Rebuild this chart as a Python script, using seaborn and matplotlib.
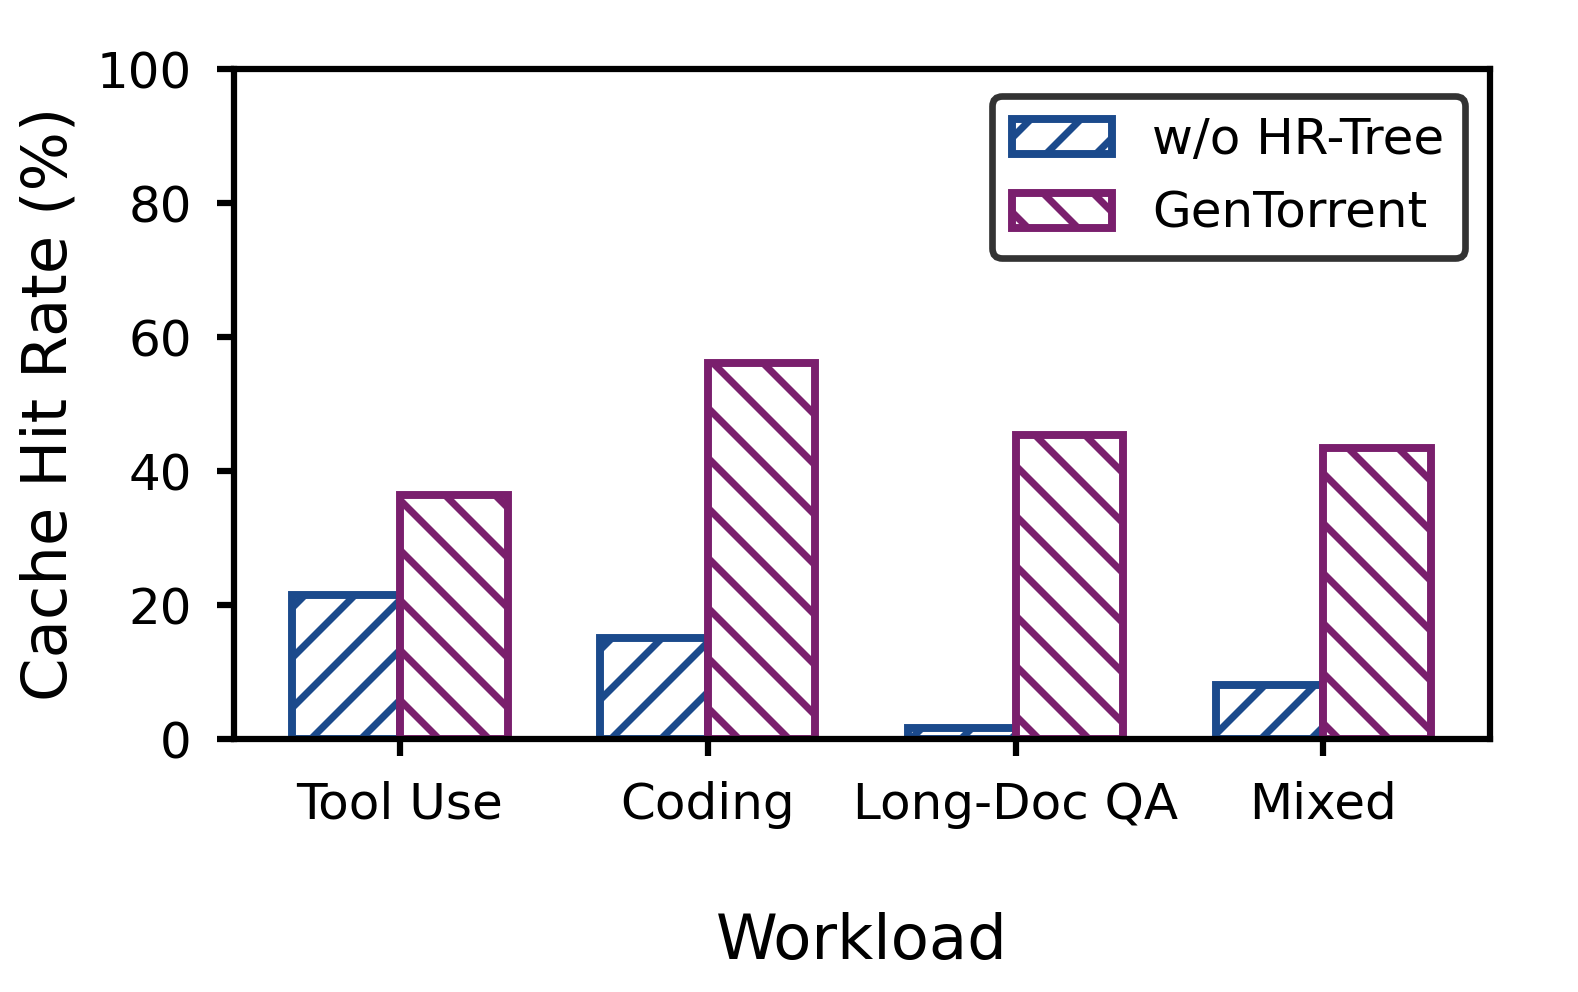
import pandas as pd
import numpy as np
import matplotlib
matplotlib.use('Agg')
import matplotlib.pyplot as plt
import seaborn as sns
from matplotlib.patches import Patch

workloads = ['Tool Use', 'Coding', 'Long-Doc QA', 'Mixed']
methods = ['w/o HR-Tree', 'GenTorrent']
wo_hrtree = [21.5, 15.1, 1.6, 8.1]
gentorrent = [36.4, 56.1, 45.4, 43.4]

colors = {'w/o HR-Tree': '#1b4a8c', 'GenTorrent': '#7a1f6d'}
hatches = {'w/o HR-Tree': '//', 'GenTorrent': '\\\\'}

df = pd.DataFrame({
    'Workload': workloads * 2,
    'Method': [methods[0]] * 4 + [methods[1]] * 4,
    'Rate': wo_hrtree + gentorrent,
})

sns.set_style('ticks')
plt.rcParams['font.family'] = ['DejaVu Sans']
plt.rcParams['hatch.linewidth'] = 1.7
plt.rcParams['text.color'] = 'black'
plt.rcParams['axes.labelcolor'] = 'black'
plt.rcParams['xtick.color'] = 'black'
plt.rcParams['ytick.color'] = 'black'

fig = plt.figure(figsize=(5.26, 3.3067), dpi=300)
ax = fig.add_axes([0.148, 0.255, 0.796, 0.675])

sns.barplot(data=df, x='Workload', y='Rate', hue='Method', hue_order=methods,
            order=workloads, width=0.7, palette=colors, ax=ax, legend=False)

for cont, m in zip(ax.containers, methods):
    for bar in cont:
        bar.set_facecolor('white')
        bar.set_edgecolor(colors[m])
        bar.set_hatch(hatches[m])
        bar.set_linewidth(1.9)

handles = [Patch(facecolor='white', edgecolor=colors[m], hatch=hatches[m], linewidth=1.9, label=m)
           for m in methods]
leg = ax.legend(handles=handles, loc='upper right', fontsize=12, frameon=True,
                fancybox=True, handlelength=2.0, handleheight=0.7, borderpad=0.4,
                labelspacing=0.52, handletextpad=0.8, borderaxespad=0,
                bbox_to_anchor=(0.98, 0.961))
leg.get_frame().set_edgecolor('#333333')
leg.get_frame().set_linewidth(1.6)
leg.get_frame().set_alpha(1)

ax.set_xlim(-0.54, 3.54)
ax.set_ylim(0, 100)
ax.set_yticks([0, 20, 40, 60, 80, 100])
ax.set_ylabel('Cache Hit Rate (%)', fontsize=15, labelpad=4)
ax.set_xlabel('Workload', fontsize=15, labelpad=20)
ax.tick_params(axis='both', labelsize=12, width=1.5, length=4, pad=6)
for s in ax.spines.values():
    s.set_visible(True)
    s.set_linewidth(1.5)
    s.set_color('black')

fig.savefig('out.png', dpi=300)
